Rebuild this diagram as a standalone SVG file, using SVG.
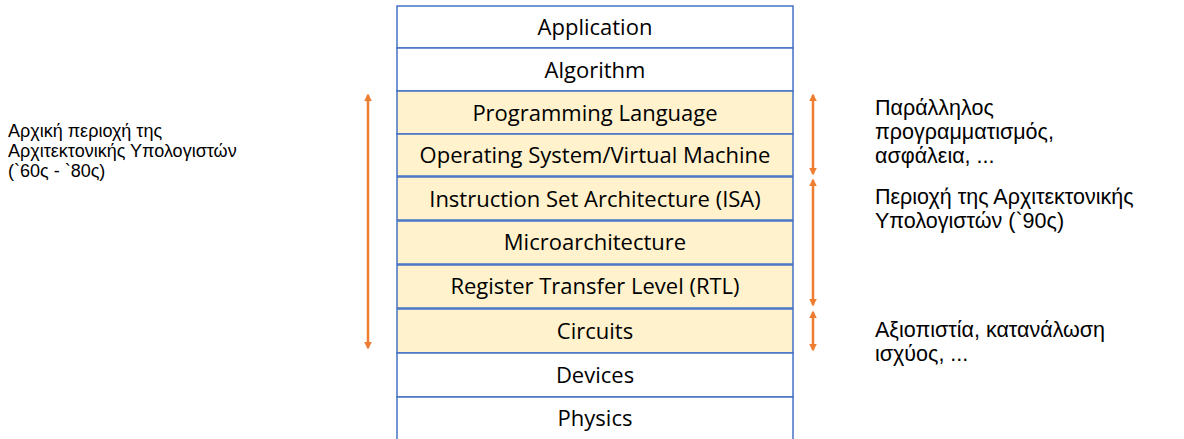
<svg xmlns="http://www.w3.org/2000/svg" width="1184" height="439" viewBox="0 0 1184 439">
<style>
.w{fill:#ffffff;stroke:#4472C4;stroke-width:1.5}
.y{fill:#FFF2CC;stroke:#4472C4;stroke-width:1.5}
.t{font-family:"Open Sans","Noto Sans",sans-serif;font-size:22px;fill:#000;text-anchor:middle}
.n{font-family:"Liberation Sans","DejaVu Sans",sans-serif;fill:#000}
.a{stroke:#ED7D31;stroke-width:2.5;fill:none;marker-start:url(#ah);marker-end:url(#ah)}
</style>
<defs>
<marker id="ah" viewBox="0 0 10 10" refX="8" refY="5" markerWidth="3.2" markerHeight="3.2" orient="auto-start-reverse" markerUnits="strokeWidth">
<path d="M0,0 L10,5 L0,10 z" fill="#ED7D31"/>
</marker>
</defs>
<g id="application"><rect class="w" x="397" y="6" width="396" height="42"/><text class="t" x="595" y="35">Application</text></g>
<g id="algorithm"><rect class="w" x="397" y="48" width="396" height="43"/><text class="t" x="595" y="78">Algorithm</text></g>
<g id="proglang"><rect class="y" x="397" y="91" width="396" height="43"/><text class="t" x="595" y="121">Programming Language</text></g>
<g id="os"><rect class="y" x="397" y="134" width="396" height="42"/><text class="t" x="595" y="163">Operating System/Virtual Machine</text></g>
<g id="isa"><rect class="y" x="397" y="177" width="396" height="43"/><text class="t" x="595" y="207">Instruction Set Architecture (ISA)</text></g>
<g id="micro"><rect class="y" x="397" y="221" width="396" height="43"/><text class="t" x="595" y="250">Microarchitecture</text></g>
<g id="rtl"><rect class="y" x="397" y="265" width="396" height="43"/><text class="t" x="595" y="294">Register Transfer Level (RTL)</text></g>
<g id="circuits"><rect class="y" x="397" y="309" width="396" height="44"/><text class="t" x="595" y="339">Circuits</text></g>
<g id="devices"><rect class="w" x="397" y="353" width="396" height="44"/><text class="t" x="595" y="383">Devices</text></g>
<g id="physics"><rect class="w" x="397" y="397" width="396" height="44"/><text class="t" x="595" y="426">Physics</text></g>
<g id="connectors">
<line class="a" x1="368" y1="95" x2="368" y2="348"/>
<line class="a" x1="813" y1="95" x2="813" y2="174"/>
<line class="a" x1="813" y1="180" x2="813" y2="305"/>
<line class="a" x1="813" y1="312" x2="813" y2="350"/>
</g>
<g id="label-left"><text class="n" font-size="18"><tspan x="8" y="137">Αρχική περιοχή της</tspan><tspan x="8" y="157">Αρχιτεκτονικής Υπολογιστών</tspan><tspan x="8" y="177">(`60ς - `80ς)</tspan></text></g>
<g id="label-top"><text class="n" font-size="21.5"><tspan x="875" y="115">Παράλληλος</tspan><tspan x="875" y="139">προγραμματισμός,</tspan><tspan x="875" y="163">ασφάλεια, ...</tspan></text></g>
<g id="label-mid"><text class="n" font-size="21.5"><tspan x="875" y="204">Περιοχή της Αρχιτεκτονικής</tspan><tspan x="875" y="228">Υπολογιστών (`90ς)</tspan></text></g>
<g id="label-bottom"><text class="n" font-size="21.5"><tspan x="875" y="337">Αξιοπιστία, κατανάλωση</tspan><tspan x="875" y="361">ισχύος, ...</tspan></text></g>
</svg>
